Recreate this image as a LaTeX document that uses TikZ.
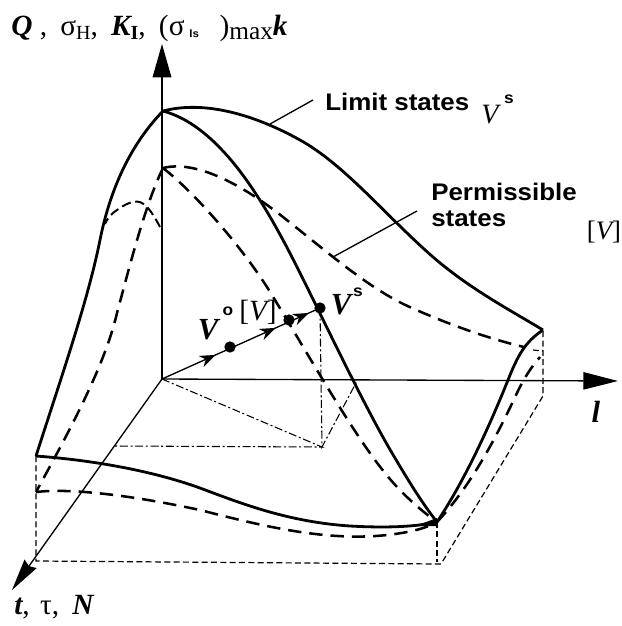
\documentclass[tikz,border=0pt]{standalone}
\usepackage{fontspec}
\usepackage{tikz}
\usepackage{xcolor}
\usetikzlibrary{arrows.meta, decorations.markings}
\newfontfamily\labfont[FakeStretch=1.08]{Liberation Sans}
\newfontfamily\serfont{Liberation Serif}
\newcommand{\subtxt}[1]{\raisebox{-3.5pt}{\fontsize{15}{16}\selectfont #1}}
\newcommand{\brackV}{{\upshape[}V{\upshape]}}

\begin{document}
\begin{tikzpicture}[x=0.75pt, y=-0.75pt, >=Stealth,
  axisline/.style={line width=1pt},
  limitline/.style={line width=2.1pt, line join=round},
  permline/.style={line width=1.9pt, dash pattern=on 10pt off 6pt},
  boxline/.style={line width=0.9pt, dash pattern=on 4.5pt off 2.5pt},
  projline/.style={line width=0.8pt, dash pattern=on 6pt off 2pt on 1.5pt off 2pt},
  boldlab/.style={font=\labfont\bfseries\fontsize{18}{20}\selectfont, inner sep=0pt},
  smalllab/.style={font=\labfont\bfseries\fontsize{12}{14}\selectfont, inner sep=0pt},
  serlab/.style={font=\serfont\fontsize{22}{24}\selectfont, inner sep=0pt},
  varlab/.style={font=\serfont\bfseries\itshape\fontsize{23}{24}\selectfont, inner sep=0pt},
  statedot/.style={circle, fill=black, inner sep=0pt, minimum size=8.5pt}]
  \useasboundingbox (0,0) rectangle (622,626);
  % Corners
  \coordinate (O) at (162,379);
  \coordinate (A) at (163,111);
  \coordinate (Ap) at (163,168);
  \coordinate (B) at (543,330);
  \coordinate (C) at (437,522);
  \coordinate (D) at (36,456);
  \coordinate (Dp) at (36,492);
  \coordinate (E) at (36,561);
  \coordinate (F) at (441,564);
  \coordinate (G) at (543,396);
  \coordinate (H) at (322,447);
  \coordinate (Q) at (115,446);
  \coordinate (Vs) at (320,308);
  % Axes
  \draw[axisline, -{Stealth[length=25pt,width=14pt,inset=0pt]}] (O) -- (162,44);
  \draw[axisline, -{Stealth[length=26pt,width=13pt,inset=0pt]}] (O) -- (618,381);
  \draw[axisline, -{Stealth[length=24pt,width=11pt,inset=2pt]}] (O) -- (12,590);
  % Box under the surface
  \draw[boxline] (D) -- (E) -- (F) -- (G) -- (B);
  \draw[boxline] (C) -- (437,562);
  \draw[boxline] (533,350) -- (543,351);
  % Projection of the state vector
  \draw[projline] (O) -- (H) -- (Q);
  \draw[projline] (Vs) -- (H) -- (357,381);
  % Limit states
  \draw[limitline] (A) .. controls (205,100) and (255,115) .. (300,140)
    .. controls (345,165) and (385,215) .. (433,257)
    .. controls (470,289) and (510,310) .. (B);
  \draw[limitline] (A) .. controls (215,125) and (255,188) .. (283,240)
    .. controls (310,290) and (360,400) .. (395,458)
    .. controls (408,480) and (422,503) .. (C);
  \draw[limitline] (A) .. controls (130,145) and (110,190) .. (100,240)
    .. controls (88,300) and (62,375) .. (D);
  \draw[limitline] (D) .. controls (90,460) and (150,470) .. (200,488)
    .. controls (245,505) and (290,522) .. (350,526)
    .. controls (385,528) and (415,527) .. (C);
  \draw[limitline] (C) .. controls (465,480) and (490,425) .. (508,380)
    .. controls (518,355) and (525,342) .. (B);
  \fill (415,526) -- (437,518) -- (437,526) -- cycle;
  % Permissible states
  \draw[permline] (Ap) .. controls (195,160) and (240,183) .. (283,217)
    .. controls (325,250) and (370,290) .. (412,308)
    .. controls (450,325) and (490,339) .. (524,347);
  \draw[permline] (Ap) .. controls (195,193) and (240,245) .. (267,287)
    .. controls (300,340) and (350,430) .. (385,473)
    .. controls (400,492) and (420,510) .. (C);
  \draw[permline] (Ap) .. controls (145,205) and (130,265) .. (117,313)
    .. controls (105,365) and (70,430) .. (Dp);
  \draw[permline] (Dp) .. controls (70,488) and (130,495) .. (200,510)
    .. controls (270,528) and (340,545) .. (407,532)
    .. controls (418,530) and (428,527) .. (C);
  \draw[permline] (C) .. controls (470,487) and (495,440) .. (517,393)
    .. controls (524,378) and (532,366) .. (540,357);
  \draw[line width=1.5pt, dash pattern=on 7pt off 3.5pt] plot[smooth, tension=0.7] coordinates {(160,227) (147,207) (133,202) (113,213) (105,224)};
  % Leaders
  \draw[line width=1pt] (270,124) -- (313,100);
  \draw[line width=1pt] (333,257) -- (417,211);
  % State vector
  \draw[line width=1pt, decoration={markings,
      mark=at position 0.34 with {\arrow{Stealth[length=12pt,width=9pt]}},
      mark=at position 0.72 with {\arrow{Stealth[length=12pt,width=9pt]}},
      mark=at position 0.93 with {\arrow{Stealth[length=12pt,width=9pt]}}},
      postaction={decorate}] (O) -- (Vs);
  \node[statedot] (vnull) at (230,347) {};
  \node[statedot] (vperm) at (289,320) {};
  \node[statedot] (vlim) at (Vs) {};
  % Labels
  \node[serlab, anchor=west] (ylab) at (11,28) {{\bfseries\itshape Q}\hspace{0.25em}, \hspace{0.2em}σ\subtxt{H}, \hspace{0.2em}{\bfseries\itshape K}\subtxt{\bfseries I}, \hspace{0.2em}(σ\,\raisebox{-2pt}{\labfont\bfseries\fontsize{8}{9}\selectfont ls}\hspace{0.7em})\subtxt{\fontsize{19}{19}\selectfont max}{\bfseries\itshape k}};
  \node[boldlab, anchor=west] (limlab) at (325,102) {Limit states};
  \node[serlab, font=\serfont\itshape\fontsize{21}{22}\selectfont] (limv) at (490,115) {V};
  \node[smalllab] (lims) at (509,99) {s};
  \node[boldlab, anchor=west] (permlab) at (431,192) {Permissible};
  \node[boldlab, anchor=west] (permlabb) at (431,219) {states};
  \node[serlab, font=\serfont\itshape\fontsize{20}{22}\selectfont] (permv) at (604,232) {\brackV};
  \node[varlab] (vsv) at (341,305) {V};
  \node[smalllab] (vss) at (358,292) {s};
  \node[varlab] (vov) at (208,330) {V};
  \node[smalllab] (voo) at (228,311) {o};
  \node[serlab, font=\serfont\itshape\fontsize{22}{24}\selectfont] (vpv) at (258,312) {\brackV};
  \node[varlab] (xlab) at (596,412) {l};
  \node[serlab, anchor=west] (zlab) at (14,607) {{\bfseries\itshape t}, \hspace{0.1em}τ, \hspace{0.2em}{\bfseries\itshape N}};
\end{tikzpicture}
\end{document}
